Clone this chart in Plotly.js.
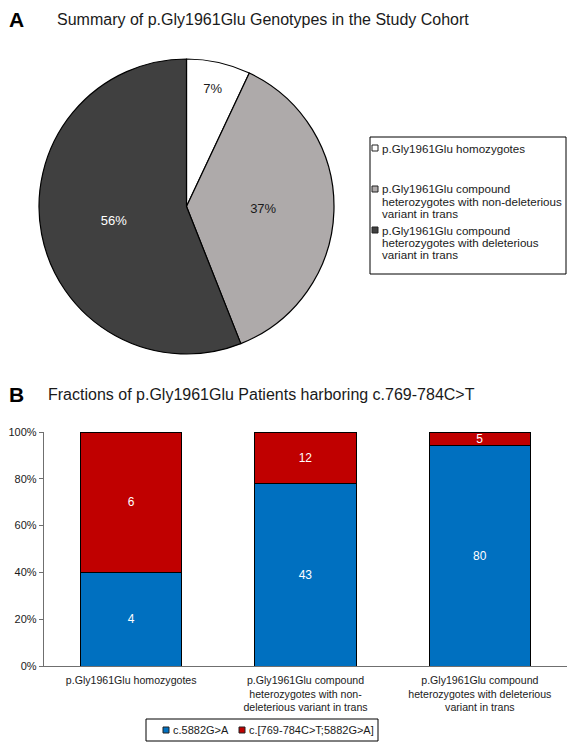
<!DOCTYPE html>
<html>
<head>
<meta charset="utf-8">
<script src="https://cdn.plot.ly/plotly-3.0.1.min.js"></script>
<style>html,body{margin:0;padding:0;background:#fff;}#chart{width:578px;height:749px;}</style>
</head>
<body>
<div id="chart"></div>
<script>
// Panel A: pie
const pieLabels = [
  "p.Gly1961Glu homozygotes",
  "p.Gly1961Glu compound heterozygotes with non-deleterious variant in trans",
  "p.Gly1961Glu compound heterozygotes with deleterious variant in trans"
];
const pieLegendLines = [
  ["p.Gly1961Glu homozygotes"],
  ["p.Gly1961Glu compound", "heterozygotes with non-deleterious", "variant in trans"],
  ["p.Gly1961Glu compound", "heterozygotes with deleterious", "variant in trans"]
];
const pieValues = [7, 37, 56];
const pieColors = ["#ffffff", "#aeaaaa", "#404040"];
const pieTextColors = ["#1a1a1a", "#1a1a1a", "#ffffff"];

// Panel B: stacked bars (counts)
const barCategories = [
  "p.Gly1961Glu homozygotes<br> <br> ",
  "p.Gly1961Glu compound<br>heterozygotes with non-<br>deleterious variant in trans",
  "p.Gly1961Glu compound<br>heterozygotes with deleterious<br>variant in trans"
];
const series1Name = "c.5882G>A";
const series1Values = [4, 43, 80];
const series1Color = "#0070c0";
const series2Name = "c.[769-784C>T;5882G>A]";
const series2Values = [6, 12, 5];
const series2Color = "#c00000";
const yTickVals = [0, 0.2, 0.4, 0.6, 0.8, 1.0];

const FONT = "Liberation Sans, Arial, sans-serif";
const W = 578, H = 749;
const px = v => v / W;
const py = v => 1 - v / H;

const traces = [
  {
    type: "pie",
    labels: pieLabels,
    values: pieValues,
    sort: false,
    direction: "clockwise",
    rotation: 0,
    marker: {colors: pieColors, line: {color: "#000", width: 1.2}},
    texttemplate: "%{value}%",
    textposition: "inside",
    insidetextorientation: "horizontal",
    textfont: {family: FONT, size: 13, color: pieTextColors},
    domain: {x: [px(39), px(334)], y: [py(354), py(59)]},
    showlegend: false,
    hoverinfo: "label+percent"
  },
  {
    type: "bar",
    name: series1Name,
    x: barCategories,
    y: series1Values,
    text: series1Values.map(String),
    textposition: "inside",
    insidetextanchor: "middle",
    textangle: 0,
    constraintext: "none",
    textfont: {family: FONT, size: 12, color: "#ffffff"},
    marker: {color: series1Color, line: {color: "#000", width: 1}},
    showlegend: false
  },
  {
    type: "bar",
    name: series2Name,
    x: barCategories,
    y: series2Values,
    text: series2Values.map(String),
    textposition: "inside",
    insidetextanchor: "middle",
    textangle: 0,
    constraintext: "none",
    textfont: {family: FONT, size: 12, color: "#ffffff"},
    marker: {color: series2Color, line: {color: "#000", width: 1}},
    showlegend: false
  }
];

// Custom legends (layout decoration, built from the name arrays)
const shapes = [];
const annotations = [
  {text: "<b>A</b>", x: px(7), y: py(20), xanchor: "left", yanchor: "middle", font: {family: FONT, size: 21, color: "#000"}},
  {text: "Summary of p.Gly1961Glu Genotypes in the Study Cohort", x: px(55), y: py(20), xanchor: "left", yanchor: "middle", font: {family: FONT, size: 16, color: "#1a1a1a"}},
  {text: "<b>B</b>", x: px(7), y: py(394), xanchor: "left", yanchor: "middle", font: {family: FONT, size: 21, color: "#000"}},
  {text: "Fractions of p.Gly1961Glu Patients harboring c.769-784C>T", x: px(46), y: py(394), xanchor: "left", yanchor: "middle", font: {family: FONT, size: 16, color: "#1a1a1a"}}
];

// Legend A
const legA = {x0: 370, x1: 566, y0: 137, y1: 274, sq: 372, txt: 380, itemY: [148, 189, 230], pitch: 12.2};
shapes.push({type: "rect", xref: "paper", yref: "paper", x0: px(legA.x0), x1: px(legA.x1), y0: py(legA.y1), y1: py(legA.y0), line: {color: "#000", width: 1}, fillcolor: "rgba(0,0,0,0)"});
pieLegendLines.forEach((lines, i) => {
  const yc = legA.itemY[i];
  shapes.push({type: "rect", xref: "paper", yref: "paper", x0: px(legA.sq), x1: px(legA.sq + 6), y0: py(yc + 3), y1: py(yc - 3), line: {color: "#222", width: 1}, fillcolor: pieColors[i]});
  lines.forEach((ln, j) => {
    annotations.push({text: ln, x: px(legA.txt), y: py(yc + j * legA.pitch), xanchor: "left", yanchor: "middle", font: {family: FONT, size: 11.6, color: "#1a1a1a"}});
  });
});

// Legend B
const legB = {x0: 146, x1: 378, y0: 719, y1: 741, yc: 730};
shapes.push({type: "rect", xref: "paper", yref: "paper", x0: px(legB.x0), x1: px(legB.x1), y0: py(legB.y1), y1: py(legB.y0), line: {color: "#000", width: 1}, fillcolor: "rgba(0,0,0,0)"});
[[series1Name, series1Color, 163], [series2Name, series2Color, 239]].forEach(([nm, col, xs]) => {
  shapes.push({type: "rect", xref: "paper", yref: "paper", x0: px(xs), x1: px(xs + 6), y0: py(legB.yc + 3), y1: py(legB.yc - 3), line: {color: "#222", width: 1}, fillcolor: col});
  annotations.push({text: nm, x: px(xs + 8), y: py(legB.yc), xanchor: "left", yanchor: "middle", font: {family: FONT, size: 11, color: "#1a1a1a"}});
});

annotations.forEach(a => { a.xref = "paper"; a.yref = "paper"; a.showarrow = false; });

const layout = {
  width: W, height: H,
  margin: {l: 0, r: 0, t: 0, b: 0},
  paper_bgcolor: "#fff", plot_bgcolor: "#fff",
  font: {family: FONT, color: "#1a1a1a"},
  barmode: "stack",
  barnorm: "fraction",
  bargap: 0.42,
  showlegend: false,
  xaxis: {
    domain: [px(44), px(567)],
    showline: true, linecolor: "#6f6f6f", linewidth: 1.2,
    ticks: "", showgrid: false, zeroline: false,
    ticklabelstandoff: 4,
    tickfont: {family: FONT, size: 10.6, color: "#1a1a1a"},
    automargin: false
  },
  yaxis: {
    domain: [py(666), py(432)],
    range: [0, 1],
    tickvals: yTickVals,
    tickformat: ".0%",
    showline: true, linecolor: "#6f6f6f", linewidth: 1.2,
    ticks: "outside", ticklen: 4, tickcolor: "#6f6f6f",
    showgrid: false, zeroline: false,
    tickfont: {family: FONT, size: 11, color: "#1a1a1a"},
    automargin: false
  },
  shapes: shapes,
  annotations: annotations
};

Plotly.newPlot("chart", traces, layout, {displayModeBar: false, staticPlot: true});
</script>
</body>
</html>
